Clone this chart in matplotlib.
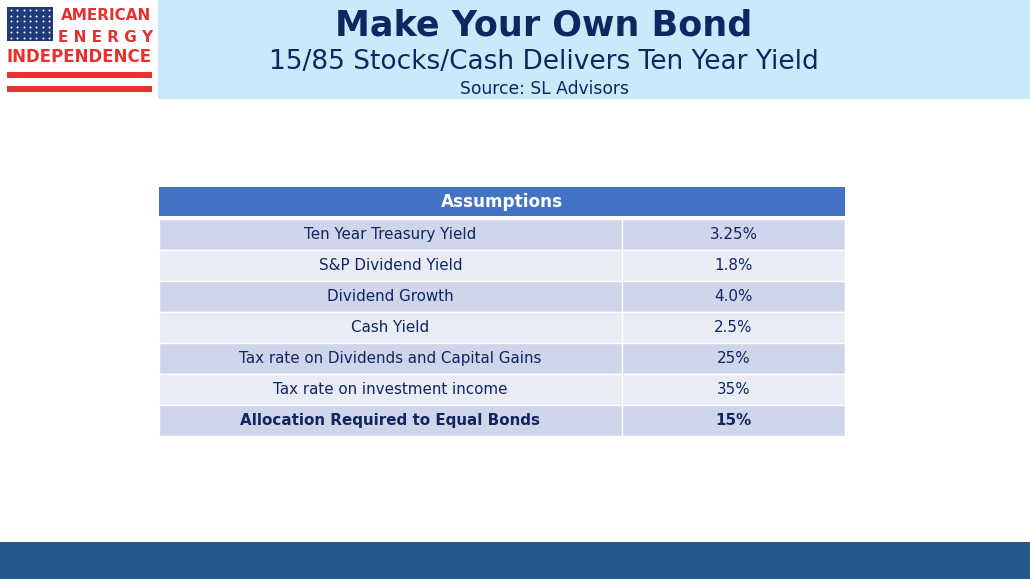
import matplotlib.pyplot as plt
from matplotlib.patches import Rectangle
import numpy as np

# table content
header_label = "Assumptions"
row_labels = [
    "Ten Year Treasury Yield",
    "S&P Dividend Yield",
    "Dividend Growth",
    "Cash Yield",
    "Tax rate on Dividends and Capital Gains",
    "Tax rate on investment income",
    "Allocation Required to Equal Bonds",
]
row_values = ["3.25%", "1.8%", "4.0%", "2.5%", "25%", "35%", "15%"]
bold_rows = [6]

title = "Make Your Own Bond"
subtitle = "15/85 Stocks/Cash Delivers Ten Year Yield"
source = "Source: SL Advisors"

navy = "#0f2660"
red = "#e8312f"

fig = plt.figure(figsize=(10.3, 5.79), dpi=100)
ax = fig.add_axes([0, 0, 1, 1])
ax.set_xlim(0, 1030)
ax.set_ylim(579, 0)
ax.axis("off")

# header band
ax.add_patch(Rectangle((158, 0), 872, 99, color="#cce9fb", lw=0))
ax.text(544, 25, title, ha="center", va="center", fontsize=25.2, fontweight="bold", color=navy)
ax.text(544, 62, subtitle, ha="center", va="center", fontsize=19, color=navy)
ax.text(544, 89, source, ha="center", va="center", fontsize=12.3, color=navy)

# logo
ax.add_patch(Rectangle((7, 7), 46, 34, color="#1f3b7a", lw=0))
sx, sy = np.meshgrid(np.linspace(11, 49, 7), np.linspace(10, 38, 6))
ax.scatter(sx.ravel(), sy.ravel(), s=2, color="white", lw=0)
ax.text(106, 16, "AMERICAN", ha="center", va="center", fontsize=11, fontweight="bold", color=red)
ax.text(106, 38, "E N E R G Y", ha="center", va="center", fontsize=11, fontweight="bold", color=red)
ax.text(79.5, 57, "INDEPENDENCE", ha="center", va="center", fontsize=12, fontweight="bold", color=red)
ax.add_patch(Rectangle((7, 72), 145, 6, color=red, lw=0))
ax.add_patch(Rectangle((7, 86), 145, 6, color=red, lw=0))

# table
x0, x1, xdiv = 159, 845, 622
ax.add_patch(Rectangle((x0, 187), x1 - x0, 29, color="#4472c4", lw=0))
ax.text((x0 + x1) / 2, 202, header_label, ha="center", va="center", fontsize=12.2,
        fontweight="bold", color="white")
top, h = 219, 31
for i, (lab, val) in enumerate(zip(row_labels, row_values)):
    y = top + i * h
    fc = "#cfd5ea" if i % 2 == 0 else "#e9ebf5"
    ax.add_patch(Rectangle((x0, y), x1 - x0, h, facecolor=fc, edgecolor="white", lw=1))
    fw = "bold" if i in bold_rows else "normal"
    ax.text((x0 + xdiv) / 2, y + h / 2, lab, ha="center", va="center", fontsize=10.9,
            fontweight=fw, color=navy)
    ax.text((xdiv + x1) / 2, y + h / 2, val, ha="center", va="center", fontsize=10.9,
            fontweight=fw, color=navy)
ax.plot([xdiv, xdiv], [top, top + len(row_labels) * h], color="white", lw=1)

# footer band
ax.add_patch(Rectangle((0, 542), 1030, 37, color="#26578a", lw=0))

fig.savefig("out.png", dpi=100)
